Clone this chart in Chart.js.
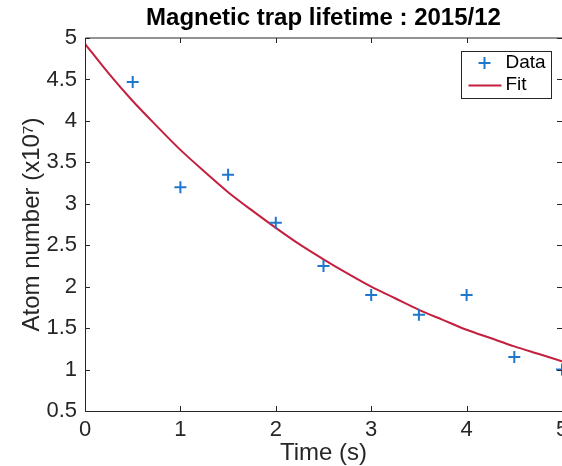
<!DOCTYPE html>
<html>
<head>
<meta charset="utf-8">
<script src="https://cdn.jsdelivr.net/npm/chart.js@4.4.1/dist/chart.umd.min.js"></script>
<style>
  html, body { margin: 0; padding: 0; background: #fff; }
  #wrap { width: 562px; height: 466px; }
</style>
</head>
<body>
<div id="wrap"><canvas id="chart" width="562" height="466"></canvas></div>
<script>
// ─── Dados ─────────────────────────────────────────
const tempo   = [0.5, 1, 1.5, 2, 2.5, 3, 3.5, 4, 4.5, 5];
const atomos  = [4.47, 3.20, 3.35, 2.77, 2.25, 1.90, 1.66, 1.90, 1.15, 1.00];

// curva de ajuste
const fitX = [0, 0.25, 0.5, 0.75, 1, 1.25, 1.5, 1.75, 2, 2.25, 2.5, 2.75, 3, 3.25, 3.5, 3.75, 4, 4.25, 4.5, 4.75, 5];
const fitY = [4.93, 4.57, 4.24, 3.94, 3.65, 3.39, 3.14, 2.92, 2.71, 2.51, 2.33, 2.16, 2.00, 1.86, 1.72, 1.60, 1.48, 1.38, 1.28, 1.19, 1.10];

const xTicks = [0, 1, 2, 3, 4, 5];
const yTicks = [0.5, 1, 1.5, 2, 2.5, 3, 3.5, 4, 4.5, 5];

const AXIS = '#262626';
const BLUE = '#1f77cc';
const RED  = '#c4203e';
const FONT = "'Liberation Sans', Arial, Helvetica, sans-serif";

const toPts = (xs, ys) => xs.map((x, i) => ({ x, y: ys[i] }));

// caixa, marcas internas e legenda estilo MATLAB
const matlabBox = {
  id: 'matlabBox',
  afterDraw(chart) {
    const { ctx, chartArea: a, scales } = chart;
    const tl = 5;
    ctx.save();
    ctx.strokeStyle = AXIS;
    ctx.lineWidth = 1;
    ctx.beginPath();
    ctx.moveTo(a.left + 0.5, a.top);
    ctx.lineTo(a.right, a.top);
    ctx.moveTo(a.left + 0.5, a.top);
    ctx.lineTo(a.left + 0.5, a.bottom + 0.5);
    ctx.lineTo(a.right, a.bottom + 0.5);
    xTicks.forEach(v => {
      const px = Math.round(scales.x.getPixelForValue(v)) + 0.5;
      ctx.moveTo(px, a.bottom); ctx.lineTo(px, a.bottom - tl);
      ctx.moveTo(px, a.top); ctx.lineTo(px, a.top + tl);
    });
    yTicks.forEach(v => {
      const py = Math.round(scales.y.getPixelForValue(v)) + 0.5;
      ctx.moveTo(a.left, py); ctx.lineTo(a.left + tl, py);
      ctx.moveTo(a.right, py); ctx.lineTo(a.right - tl, py);
    });
    ctx.stroke();

    // legenda
    const bx = a.right - 100.5, by = a.top + 13.5, bw = 90, bh = 47;
    ctx.fillStyle = '#fff';
    ctx.fillRect(bx, by, bw, bh);
    ctx.strokeStyle = AXIS;
    ctx.strokeRect(bx, by, bw, bh);

    const r1 = by + 11.5, r2 = by + 33;
    ctx.strokeStyle = BLUE;
    ctx.lineWidth = 2;
    ctx.beginPath();
    ctx.moveTo(bx + 17, r1); ctx.lineTo(bx + 29, r1);
    ctx.moveTo(bx + 23, r1 - 6); ctx.lineTo(bx + 23, r1 + 6);
    ctx.stroke();
    ctx.strokeStyle = RED;
    ctx.beginPath();
    ctx.moveTo(bx + 7, r2 + 1); ctx.lineTo(bx + 40, r2 + 1);
    ctx.stroke();

    ctx.fillStyle = '#000';
    ctx.font = '19px ' + FONT;
    ctx.textAlign = 'left';
    ctx.textBaseline = 'middle';
    const ds = chart.data.datasets;
    ctx.fillText(ds[0].label, bx + 44, r1);
    ctx.fillText(ds[1].label, bx + 44, r2);
    ctx.restore();
  }
};

new Chart(document.getElementById('chart'), {
  type: 'scatter',
  data: {
    datasets: [
      {
        label: 'Data',
        data: toPts(tempo, atomos),
        showLine: false,
        pointStyle: 'cross',
        pointRadius: 6,
        pointBorderWidth: 2,
        borderColor: BLUE,
        backgroundColor: BLUE,
        order: 1,
      },
      {
        label: 'Fit',
        data: toPts(fitX, fitY),
        showLine: true,
        pointRadius: 0,
        borderWidth: 2,
        borderColor: RED,
        tension: 0.3,
        order: 2,
      },
    ],
  },
  options: {
    responsive: false,
    animation: false,
    devicePixelRatio: 1,
    layout: { padding: 0, autoPadding: false },
    plugins: {
      legend: { display: false },
      tooltip: { enabled: false },
      title: {
        display: true,
        fullSize: false,
        text: 'Magnetic trap lifetime : 2015/12',
        color: '#000',
        font: { family: FONT, size: 24, weight: 'bold', lineHeight: 1.2 },
        padding: { top: 4, bottom: 5.2 },
      },
    },
    scales: {
      x: {
        type: 'linear',
        min: 0, max: 5,
        afterBuildTicks: s => { s.ticks = xTicks.map(v => ({ value: v })); },
        ticks: { color: AXIS, font: { family: FONT, size: 22 }, padding: 6, maxRotation: 0, callback: v => String(v) },
        grid: { display: false, drawTicks: false },
        border: { display: false },
        title: {
          display: true,
          text: 'Time (s)',
          color: AXIS,
          font: { family: FONT, size: 24, lineHeight: 1.2 },
          padding: { top: 0, bottom: -2 },
        },
        afterFit: s => { s.height = 55; s.paddingLeft = 0; s.paddingRight = 0; },
      },
      y: {
        type: 'linear',
        min: 0.5, max: 5,
        afterBuildTicks: s => { s.ticks = yTicks.map(v => ({ value: v })); },
        ticks: { color: AXIS, font: { family: FONT, size: 22 }, padding: 8, callback: v => String(v) },
        grid: { display: false, drawTicks: false },
        border: { display: false },
        title: {
          display: true,
          text: 'Atom number (x10\u2077)',
          color: AXIS,
          font: { family: FONT, size: 24, lineHeight: 1.2 },
          padding: { top: 18, bottom: 0 },
        },
        afterFit: s => { s.width = 85; s.paddingTop = 0; s.paddingBottom = 0; },
      },
    },
  },
  plugins: [matlabBox],
});
</script>
</body>
</html>
